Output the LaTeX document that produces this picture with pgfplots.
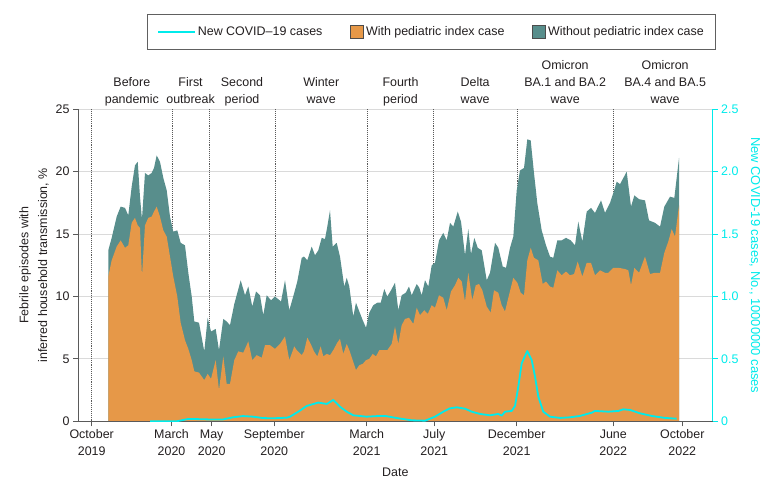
\documentclass[border=0pt]{standalone}
\usepackage{pgfplots}
\pgfplotsset{compat=1.18}
\usepackage{pgfplotstable}
\usepackage{fontspec}
\setmainfont{Liberation Sans}
\definecolor{orangeC}{RGB}{230,152,72}
\definecolor{tealC}{RGB}{88,142,140}
\definecolor{cyanC}{RGB}{0,235,235}
\definecolor{axisC}{RGB}{90,90,90}
\definecolor{gridC}{RGB}{218,218,218}
\definecolor{textC}{RGB}{35,31,32}

\pgfplotstableread{
x y
30.8 13.7
37.1 14.7
46.4 16.4
53.8 17.2
61.8 17.1
67.9 16.5
74.2 18.8
80.3 20.5
85.4 20.8
89.6 18.0
93.3 16.2
98.9 19.9
105.0 19.7
111.3 19.9
115.6 20.3
120.6 21.3
126.7 20.8
132.9 19.5
139.2 18.5
145.3 16.4
151.4 15.2
158.8 15.3
165.1 14.3
173.1 14.1
179.3 11.9
185.6 10.0
190.4 8.0
199.1 7.9
208.9 5.6
215.2 8.3
221.4 7.2
230.1 7.4
236.2 5.7
244.2 8.2
250.5 8.0
256.6 7.7
264.6 9.4
276.5 11.3
284.5 10.1
290.6 10.8
298.0 9.2
304.9 10.4
312.3 10.1
318.4 8.5
324.7 10.1
332.7 9.7
340.1 10.0
351.3 9.6
358.7 11.3
366.7 8.9
375.9 10.3
381.5 11.2
389.7 13.1
394.0 13.2
400.1 12.9
408.2 14.0
414.4 13.3
420.5 13.7
426.8 14.7
432.9 14.6
437.2 15.6
442.2 16.9
447.2 14.0
454.6 14.3
460.7 13.2
468.7 10.8
473.2 11.5
478.0 10.8
485.4 8.4
490.4 9.5
496.6 8.8
502.9 8.1
509.0 7.5
515.1 8.7
522.5 9.3
530.0 9.5
536.3 9.5
542.9 10.6
548.5 10.0
555.4 10.5
562.8 11.1
568.9 8.9
575.2 10.1
582.7 10.3
588.8 10.8
593.8 10.1
603.1 11.0
607.9 10.7
612.3 10.1
618.5 11.3
624.6 10.8
630.9 12.5
637.0 12.7
644.5 14.5
652.4 15.1
658.7 14.5
664.9 15.9
671.0 15.6
679.2 16.8
685.3 16.0
692.7 13.3
698.8 15.4
703.8 13.4
710.0 14.7
716.3 13.9
723.7 13.7
733.0 11.3
739.1 11.9
748.4 14.3
754.5 13.9
762.7 12.4
768.8 12.3
776.2 13.9
782.3 14.8
788.6 18.5
794.7 20.1
802.2 20.3
808.3 22.6
814.6 22.5
820.7 19.9
826.8 17.5
835.0 15.3
843.0 14.1
850.4 13.2
856.5 13.1
864.0 14.5
872.1 14.5
880.1 14.7
888.8 14.5
896.8 14.1
902.9 16.0
910.4 14.4
918.5 16.8
926.5 17.1
933.9 16.7
945.1 17.7
952.5 16.7
961.8 17.5
967.9 18.3
974.2 19.2
980.3 19.0
992.7 20.0
1000.7 17.2
1006.9 18.1
1015.6 17.8
1026.7 17.7
1034.1 16.1
1045.3 15.9
1054.6 15.6
1062.5 17.2
1073.1 18.0
1081.1 17.9
1089.8 21.1
}\totaltable

\pgfplotstableread{
x y
30.8 11.6
37.1 12.9
46.4 14.0
53.8 14.5
61.8 13.9
67.9 14.1
74.2 15.9
80.3 16.3
85.4 15.7
89.6 15.5
93.3 11.6
98.9 15.7
105.0 16.3
111.3 16.4
115.6 16.8
120.6 17.2
126.7 16.4
132.9 15.3
139.2 14.8
145.3 13.2
151.4 11.6
158.8 10.0
165.1 7.9
173.1 6.5
179.3 5.8
185.6 4.9
190.4 4.0
199.1 3.9
208.9 3.3
215.2 3.8
221.4 3.4
230.1 4.9
236.2 2.5
244.2 5.2
250.5 3.0
256.6 3.0
264.6 4.9
272.0 5.6
281.3 5.5
290.6 6.4
298.0 4.9
306.2 5.3
315.5 5.1
321.6 6.1
330.9 6.1
340.1 5.8
349.4 6.2
358.7 6.8
366.7 4.9
375.9 6.0
380.4 5.7
389.7 5.3
394.0 5.6
400.1 6.7
406.4 6.2
412.5 5.6
418.6 5.2
424.9 6.0
429.8 5.2
436.1 5.4
442.2 5.3
448.3 5.7
455.7 6.3
460.7 6.6
466.9 5.4
473.2 6.2
478.0 5.7
484.3 4.9
490.4 4.1
496.6 4.5
502.9 4.6
509.0 4.9
515.1 5.0
521.4 5.4
527.5 5.2
533.7 5.7
541.1 5.7
548.5 5.7
556.7 6.2
562.8 7.6
568.9 6.2
575.2 7.7
581.4 8.2
588.8 8.3
596.8 7.8
603.1 9.1
609.2 8.5
617.2 8.9
623.5 8.6
630.9 9.3
637.0 9.1
644.5 10.1
652.4 9.9
658.7 8.9
666.7 10.4
674.1 10.9
680.3 11.5
686.6 11.2
692.7 9.6
698.8 11.9
706.2 9.7
712.6 10.9
718.7 11.0
724.8 10.5
733.0 9.2
740.4 8.7
746.5 10.5
754.5 10.3
760.8 9.3
766.9 8.8
773.1 9.9
782.3 11.5
789.8 11.1
796.1 10.3
802.2 10.1
808.3 12.9
814.6 13.9
820.7 13.1
828.7 12.9
836.9 11.0
843.0 11.2
850.4 10.8
856.5 10.7
864.0 12.1
872.1 11.7
880.1 12.0
887.5 11.7
895.0 11.8
901.8 12.8
910.4 11.6
918.5 12.7
926.5 12.7
933.9 11.7
943.2 12.1
952.5 11.9
958.6 11.9
967.9 12.3
977.2 12.3
989.6 12.2
995.7 12.1
1000.7 10.9
1006.9 12.3
1015.6 11.9
1026.7 13.2
1036.0 11.8
1045.3 11.9
1054.6 11.9
1062.5 13.5
1069.9 14.4
1076.2 15.4
1082.4 14.8
1089.8 17.3
}\withtable

\pgfplotstableread{
x y
108.2 0
157.7 0
179.3 0.019
201.0 0.017
225.1 0.014
243.6 0.015
262.2 0.032
280.7 0.042
299.3 0.037
317.8 0.026
336.4 0.024
362.4 0.029
368.0 0.037
383.4 0.077
399.0 0.123
420.5 0.150
436.1 0.139
448.3 0.171
460.7 0.117
473.2 0.077
485.4 0.048
510.3 0.037
535.0 0.043
544.3 0.043
568.9 0.024
593.8 0.008
618.5 0.005
637.0 0.037
652.4 0.077
664.9 0.104
677.3 0.112
692.7 0.101
705.1 0.077
720.5 0.059
739.1 0.048
754.5 0.059
760.8 0.045
766.9 0.077
779.3 0.083
785.5 0.123
791.6 0.278
797.9 0.465
808.3 0.563
816.5 0.490
822.6 0.358
828.7 0.198
838.0 0.077
850.4 0.037
869.0 0.027
887.5 0.032
906.1 0.043
927.8 0.069
933.9 0.083
958.6 0.077
977.2 0.083
986.4 0.096
998.9 0.091
1017.4 0.064
1039.1 0.043
1063.7 0.027
1085.3 0.021
}\casestable

\begin{document}
\begin{tikzpicture}[font=\fontsize{12}{16}\selectfont, text=textC,
  lbl/.style={anchor=south, align=center, inner sep=0pt, yshift=1bp, font=\fontsize{12.5}{17}\selectfont}]
\useasboundingbox (0,0) rectangle (780bp,492bp);
\begin{axis}[
  at={(78bp,70.7bp)}, anchor=south west,
  scale only axis, width=634.7bp, height=312bp,
  xmin=-25.4, xmax=1152.3, ymin=0, ymax=25,
  clip mode=individual,
  axis x line*=bottom, axis y line*=left,
  x axis line style={axisC, line width=1bp},
  y axis line style={axisC, line width=1bp},
  tick align=outside, major tick length=5bp,
  tick style={axisC, line width=0.8bp},
  /pgf/number format/assume math mode=true,
  ticklabel style={font=\fontsize{12.5}{17}\selectfont, text=textC},
  ytick={0,5,...,25},
  ymajorgrids, major grid style={gridC, line width=0.9bp},
  xtick={0,148.1,222.7,338.8,510.3,635.7,788.6,967.9,1095.9},
  xticklabels={October\\2019, March\\2020, May\\2020, September\\2020, March\\2021, July\\2021, December\\2021, June\\2022, October\\2022},
  xticklabel style={align=center},
  extra x ticks={0,149,218,340,512,634,789,968},
  extra x tick labels={},
  extra x tick style={grid=major, major grid style={axisC, densely dotted, line width=0.7bp}, major tick length=0bp},
  xlabel={Date},
  xlabel style={font=\fontsize{12.5}{16}\selectfont},
  ylabel={Febrile episodes with\\inferred household transmission, \%},
  ylabel style={align=center, font=\fontsize{12.5}{19}\selectfont},
  legend style={at={(0.557,1.248)}, anchor=center,
    draw=gray!75!black, line width=0.8bp,
    /tikz/every even column/.append style={column sep=26bp},
    inner xsep=10bp, inner ysep=10bp,
    font=\fontsize{12.5}{14}\selectfont, text=textC},
  legend columns=3,
  legend cell align=left,
]
\addlegendimage{legend image code/.code={\draw[cyanC, line width=1.6bp] (0bp,0bp) -- (37bp,0bp);}}
\addlegendentry{New COVID\textendash 19 cases}
\addlegendimage{legend image code/.code={\draw[fill=orangeC, draw=gray!60!black, line width=0.6bp] (0bp,-6.5bp) rectangle (13bp,6.5bp);}}
\addlegendentry{With pediatric index case}
\addlegendimage{legend image code/.code={\draw[fill=tealC, draw=gray!60!black, line width=0.6bp] (0bp,-6.5bp) rectangle (13bp,6.5bp);}}
\addlegendentry{Without pediatric index case}

\addplot[forget plot, fill=tealC, draw=none] table[x=x, y=y] {\totaltable} \closedcycle;
\addplot[forget plot, fill=orangeC, draw=none] table[x=x, y=y] {\withtable} \closedcycle;

\draw[axisC, line width=1bp] (rel axis cs:0,0) -- (rel axis cs:1,0);

\node[lbl] at (axis cs:74.5,25) {Before\\pandemic\strut};
\node[lbl] at (axis cs:183.5,25) {First\\outbreak\strut};
\node[lbl] at (axis cs:279,25) {Second\\period\strut};
\node[lbl] at (axis cs:426,25) {Winter\\wave\strut};
\node[lbl] at (axis cs:573,25) {Fourth\\period\strut};
\node[lbl] at (axis cs:711.5,25) {Delta\\wave\strut};
\node[lbl] at (axis cs:878.5,25) {Omicron\\BA.1 and BA.2\\wave\strut};
\node[lbl] at (axis cs:1064,25) {Omicron\\BA.4 and BA.5\\wave\strut};
\end{axis}

\begin{axis}[
  at={(78bp,70.7bp)}, anchor=south west,
  scale only axis, width=634.7bp, height=312bp,
  xmin=-25.4, xmax=1152.3, ymin=0, ymax=2.5,
  axis x line=none, axis y line*=right,
  y axis line style={cyanC, line width=1.2bp},
  tick align=outside, major tick length=5bp,
  ytick style={cyanC, line width=0.8bp},
  ytick={0,0.5,1,1.5,2,2.5},
  yticklabels={0,0.5,1.0,1.5,2.0,2.5},
  /pgf/number format/assume math mode=true,
  yticklabel style={font=\fontsize{12.5}{16}\selectfont, text=cyanC},
  ylabel={New COVID-19 cases, No., 10000000 cases},
  ylabel shift=4bp,
  ylabel style={font=\fontsize{13}{16}\selectfont, text=cyanC, rotate=180},
]
\addplot[cyanC, line width=1.8bp, line join=round] table[x=x, y=y] {\casestable};
\end{axis}
\end{tikzpicture}
\end{document}
